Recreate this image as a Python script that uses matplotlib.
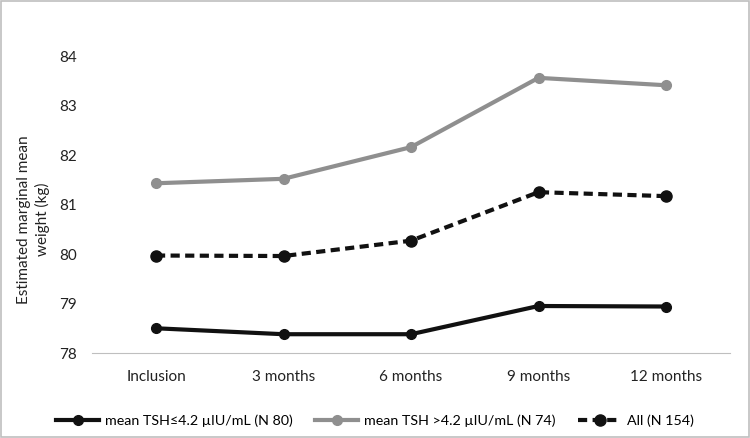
import matplotlib
matplotlib.use("Agg")
import matplotlib.pyplot as plt
from matplotlib.patches import Rectangle

plt.rcParams["font.family"] = ["Lato", "DejaVu Sans"]

categories = ["Inclusion", "3 months", "6 months", "9 months", "12 months"]
tsh_low = [78.50, 78.38, 78.38, 78.95, 78.94]
tsh_high = [81.43, 81.52, 82.16, 83.56, 83.41]
all_pts = [79.97, 79.96, 80.27, 81.25, 81.17]
labels = ["mean TSH\u22644.2 \u00b5IU/mL (N 80)",
          "mean TSH >4.2 \u00b5IU/mL (N 74)",
          "All (N 154)"]

fig = plt.figure(figsize=(7.5, 4.38), dpi=100)
ax = fig.add_axes([0.123, 0.194, 0.85, 0.678])

x = range(len(categories))
ax.plot(x, tsh_low, color="#111111", lw=3, marker="o", ms=7, label=labels[0])
ax.plot(x, tsh_high, color="#8f8f8f", lw=3, marker="o", ms=7, label=labels[1])
ax.plot(x, all_pts, color="#111111", lw=3, ls=(0, (2.2, 1.3)), marker="o", ms=8,
        label=labels[2])

ax.set_xlim(-0.5, len(categories) - 0.5)
ax.set_ylim(78, 84)
ax.set_yticks(range(78, 85))
ax.set_xticks(list(x))
ax.set_xticklabels(categories)
ax.tick_params(length=0, labelsize=11, colors="#222222")
ax.tick_params(axis="x", pad=12)
ax.tick_params(axis="y", pad=11)
for side in ["top", "right", "left"]:
    ax.spines[side].set_visible(False)
ax.spines["bottom"].set_color("#bfbfbf")
ax.set_ylabel("Estimated marginal mean\nweight (kg)", fontsize=11, color="#222222",
              linespacing=1.3)
ax.yaxis.set_label_coords(-0.066, 0.45)

fig.legend(loc="lower center", bbox_to_anchor=(0.5, -0.005), ncol=3, frameon=False,
           fontsize=10.3, handlelength=3.0, columnspacing=1.6, handletextpad=0.4)

fig.patches.append(Rectangle((0.001, 0.002), 0.997, 0.996, transform=fig.transFigure,
                             fill=False, edgecolor="#bfbfbf", lw=1.2))

fig.savefig("out.png", dpi=100)
